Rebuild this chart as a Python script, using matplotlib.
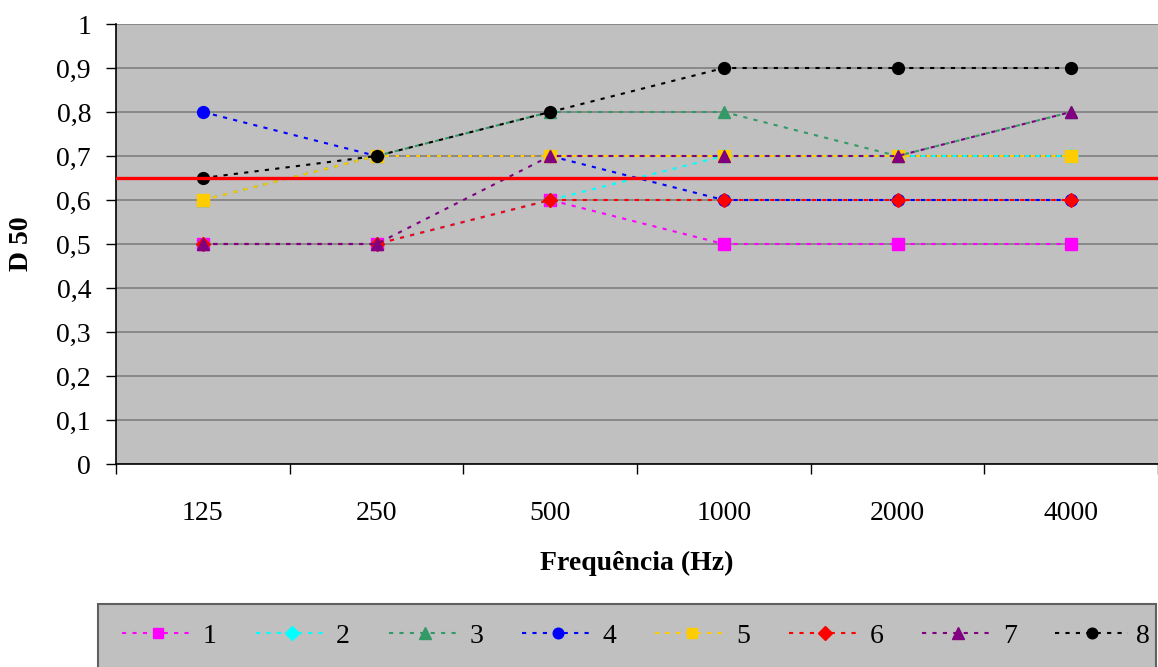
import numpy as np
import matplotlib.pyplot as plt
from matplotlib.patches import Rectangle

plt.rcParams['font.family'] = ['Liberation Serif', 'DejaVu Serif']

freqs = ['125', '250', '500', '1000', '2000', '4000']
s1 = [0.5, 0.5, 0.6, 0.5, 0.5, 0.5]
s2 = [0.5, 0.5, 0.6, 0.7, 0.7, 0.7]
s3 = [0.6, 0.7, 0.8, 0.8, 0.7, 0.8]
s4 = [0.8, 0.7, 0.7, 0.6, 0.6, 0.6]
s5 = [0.6, 0.7, 0.7, 0.7, 0.7, 0.7]
s6 = [0.5, 0.5, 0.6, 0.6, 0.6, 0.6]
s7 = [0.5, 0.5, 0.7, 0.7, 0.7, 0.8]
s8 = [0.65, 0.7, 0.8, 0.9, 0.9, 0.9]
labels = ['1', '2', '3', '4', '5', '6', '7', '8']
limit = 0.65

series = [s1, s2, s3, s4, s5, s6, s7, s8]
colors = ['#FF00FF', '#00FFFF', '#339966', '#0000FF', '#FFCC00', '#FF0000', '#800080', '#000000']
markers = ['s', 'D', '^', 'o', 's', 'D', '^', 'o']
msizes = [8, 7.5, 9, 8.5, 8, 7.5, 9, 8.5]

fig = plt.figure(figsize=(11.58, 6.67), dpi=100)
ax = fig.add_axes([116 / 1158, 1 - 464 / 667, 1 - 116 / 1158, 440 / 667])
ax.set_facecolor('#C0C0C0')

x = np.arange(len(freqs))
for i, vals in enumerate(series):
    ax.plot(x, vals, color=colors[i], marker=markers[i], ms=msizes[i],
            lw=1.5, dashes=(2, 3), label=labels[i], zorder=3 + i * 0.1)

ax.axhline(limit, color='#FF0000', lw=2.4, zorder=5)

ax.set_xlim(-0.5, 5.5)
ax.set_ylim(0, 1)
ax.set_yticks(np.arange(0, 1.01, 0.1))
ax.set_yticklabels(['0', '0,1', '0,2', '0,3', '0,4', '0,5', '0,6', '0,7', '0,8', '0,9', '1'])
ax.yaxis.grid(True, color='#808080', lw=1.2)
ax.set_axisbelow(True)
ax.set_xticks(x)
ax.set_xticklabels(freqs)
ax.set_xticks(np.arange(-0.5, 6, 1), minor=True)
ax.tick_params(axis='x', which='major', length=0, pad=27, labelsize=20)
ax.tick_params(axis='x', which='minor', length=7, width=1, direction='out')
ax.tick_params(axis='y', length=7, width=1, pad=11, labelsize=20)

for s in ['top', 'right']:
    ax.spines[s].set_visible(False)
ax.spines['left'].set_linewidth(1.2)
ax.spines['bottom'].set_linewidth(1.2)

fig.text(637 / 1158, 1 - 563 / 667, 'Frequência (Hz)', ha='center', va='center',
         fontsize=20, fontweight='bold')
fig.text(21 / 1158, 1 - 244 / 667, 'D 50', ha='center', va='center',
         fontsize=20, fontweight='bold', rotation=90)

fig.patches.append(Rectangle((98 / 1158, -0.05), (1158 - 98) / 1158 - 0.0015, 1 - 604 / 667 + 0.05,
                             transform=fig.transFigure, facecolor='#C0C0C0',
                             edgecolor='#606060', lw=1.5, zorder=0))
fig.legend(loc='center', bbox_to_anchor=(636 / 1158, 1 - 636 / 667), ncol=8,
           frameon=False, fontsize=20, handlelength=2.6, handletextpad=0.3,
           columnspacing=1.4, markerscale=0.9)

fig.savefig('out.png', dpi=100)
